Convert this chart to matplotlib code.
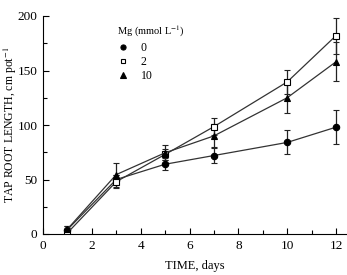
import matplotlib
matplotlib.use("Agg")
import matplotlib.pyplot as plt
from matplotlib.ticker import MultipleLocator
from matplotlib.lines import Line2D

plt.rcParams['font.family'] = ['Liberation Serif', 'DejaVu Serif']
plt.rcParams['mathtext.fontset'] = 'stix'

days = [1, 3, 5, 7, 10, 12]
labels = ['0', '2', '10']
mg0 = [4, 50, 64, 72, 84, 98]
mg0_err = [3, 4, 5.5, 7, 11, 15.5]
mg2 = [1, 48, 73, 98.5, 139.5, 182]
mg2_err = [3, 6, 5, 8, 11, 16.5]
mg10 = [4.5, 54.5, 74.5, 90, 125, 158]
mg10_err = [3, 11, 7, 10.5, 14, 18]

fig = plt.figure(figsize=(3.47, 2.75), dpi=100)
ax = fig.add_axes([43/347, 1-234/275, 304/347, 218/275])

styles = [dict(marker='o', mfc='black', ms=4.6),
          dict(marker='s', mfc='white', ms=4.0),
          dict(marker='^', mfc='black', ms=5.0)]
proxies = []
for vals, errs, lab, st in zip([mg0, mg2, mg10], [mg0_err, mg2_err, mg10_err], labels, styles):
    ax.errorbar(days, vals, yerr=errs, color='#333333', lw=0.9, mec='black', mew=0.8,
                elinewidth=0.9, ecolor='#222222', capsize=2.5, capthick=0.9, **st)
    proxies.append(Line2D([], [], ls='none', mec='black', mew=0.8, **st))

ax.set_xlim(0, 12.45)
ax.set_ylim(0, 200)
ax.xaxis.set_major_locator(MultipleLocator(2))
ax.xaxis.set_minor_locator(MultipleLocator(1))
ax.yaxis.set_major_locator(MultipleLocator(50))
ax.yaxis.set_minor_locator(MultipleLocator(25))
ax.tick_params(which='both', direction='in', labelsize=9.5, width=0.8)
ax.tick_params(which='major', length=4, pad=4)
ax.tick_params(which='minor', length=3)
ax.spines['top'].set_visible(False)
ax.spines['right'].set_visible(False)
ax.set_xlabel('TIME, days', fontsize=9, labelpad=6)
ax.set_ylabel('TAP ROOT LENGTH, cm pot$^{-1}$', fontsize=8.5)
ax.yaxis.set_label_coords(-0.078, 0.5)

leg = ax.legend(proxies, labels, title='Mg (mmol L$^{-1}$)', frameon=False,
                loc='upper left', bbox_to_anchor=(0.22, 0.995), fontsize=8.5, title_fontsize=7.5,
                handlelength=1.0, handletextpad=1.0, labelspacing=0.2, borderpad=0.1,
                markerscale=0.8)
leg._legend_box.align = 'left'

fig.savefig('out.png', dpi=100)
